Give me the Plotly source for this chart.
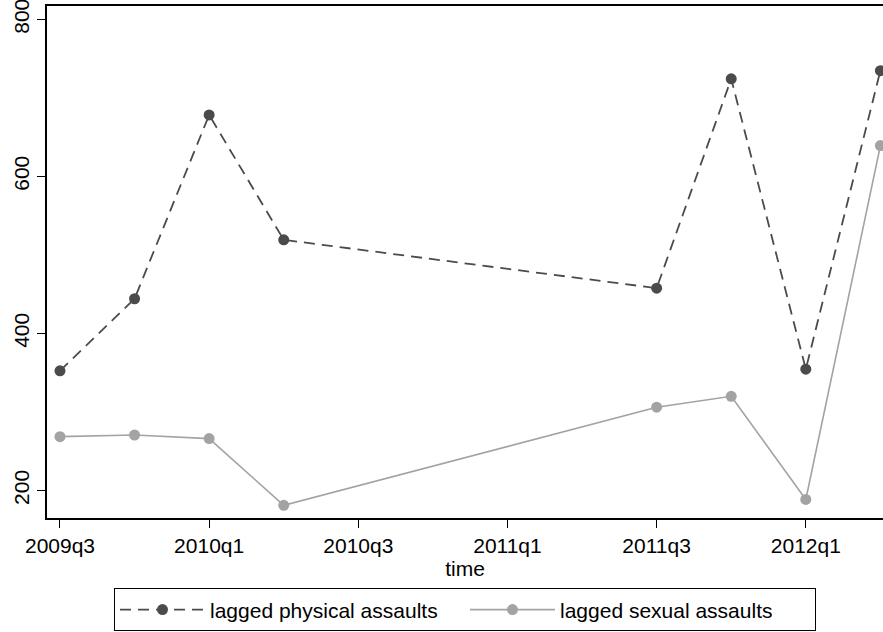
import plotly.graph_objects as go

quarters = ["2009q3", "2009q4", "2010q1", "2010q2", "2011q3", "2011q4", "2012q1", "2012q2"]
physical = [352.4, 444.2, 678.3, 519.2, 457.7, 724.2, 354.5, 734.7]
sexual = [268.6, 270.7, 266.1, 181.1, 306.1, 320.0, 188.6, 639.2]
tick_labels = ["2009q3", "2010q1", "2010q3", "2011q1", "2011q3", "2012q1"]
y_ticks = [200, 400, 600, 800]


def qindex(q):
    y, n = q.split("q")
    return (int(y) - 2009) * 4 + int(n) - 3


x = [qindex(q) for q in quarters]
tick_x = [qindex(q) for q in tick_labels]

dark = "#4b4b4b"
light = "#a3a3a3"

fig = go.Figure()
fig.add_trace(go.Scatter(
    x=x, y=physical, mode="lines+markers", name="lagged physical assaults",
    line=dict(color=dark, width=1.8, dash="11px,7px"),
    marker=dict(color=dark, size=11),
    cliponaxis=False,
))
fig.add_trace(go.Scatter(
    x=x, y=sexual, mode="lines+markers", name="lagged sexual assaults",
    line=dict(color=light, width=1.6),
    marker=dict(color=light, size=11),
    cliponaxis=False,
))

font = dict(family="Liberation Sans, Arial, sans-serif", size=21, color="black")
fig.update_layout(
    width=883, height=632,
    margin=dict(l=47, r=0, t=6, b=110),
    paper_bgcolor="white", plot_bgcolor="white",
    font=font,
    showlegend=True,
    legend=dict(
        orientation="h", x=0.5, xanchor="center", y=-0.1376, yanchor="top",
        bordercolor="black", borderwidth=1, font=dict(size=21),
        itemwidth=85, entrywidth=250,
    ),
    xaxis=dict(
        range=[-0.174, 11.035], tickvals=tick_x, ticktext=tick_labels,
        showgrid=False, zeroline=False, showline=True, linecolor="black", linewidth=1.6,
        mirror=True, ticks="outside", ticklen=8, tickcolor="black", tickwidth=1.2,
        tickfont=dict(size=21),
        title=dict(text="time", standoff=2, font=dict(size=21)),
    ),
    yaxis=dict(
        range=[165, 817], tickvals=y_ticks, tickangle=-90,
        showgrid=False, zeroline=False, showline=True, linecolor="black", linewidth=1.6,
        mirror=False, ticks="outside", ticklen=8, tickcolor="black", tickwidth=1.2,
        tickfont=dict(size=21), ticklabeloverflow="allow",
    ),
)
fig.write_html("out.html", config={"displayModeBar": False},
               post_script="document.body.style.margin='0';")
